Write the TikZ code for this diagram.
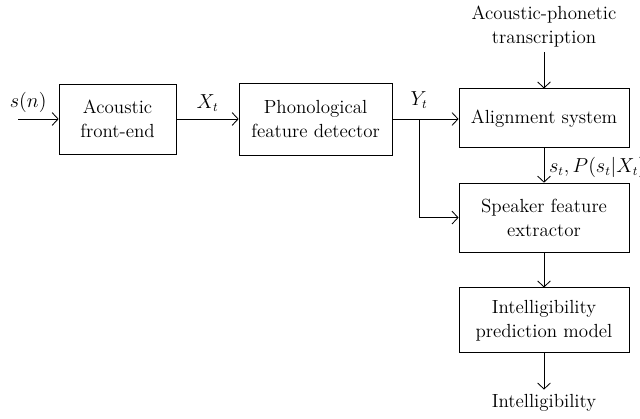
\documentclass[tikz,border=0pt]{standalone}
\usepackage{amsmath}
\usepackage{tikz}
\usetikzlibrary{calc,arrows.meta}

\begin{document}
\begin{tikzpicture}[>={Straight Barb[length=1.5mm,width=3.2mm]}, line width=.6pt,
    every node/.style={font=\fontsize{13.5}{17}\selectfont},
    blk/.style={draw, align=center, inner sep=2pt}]
            \useasboundingbox (0,0) rectangle (16,-10.45);

            % front part
            \node[blk, minimum width=2.925cm, minimum height=1.75cm] (afe) at (2.94,-2.975) {Acoustic\\front-end};
            \node[blk, minimum width=3.825cm, minimum height=1.8cm] (pfd) at (7.89,-2.975) {Phonological\\feature detector};
            \coordinate (sig) at (0.45,-2.975);
            \draw[->] (sig) -- (afe.west) node[pos=.25, above=1pt] {$s(n)$};
            \draw[->] (afe.east) -- (pfd.west) node[midway, above=2pt] {$X_t$};

            % right column
            \node[blk, minimum width=4.25cm, minimum height=1.475cm] (als) at (13.6,-2.96) {Alignment system};
            \node[blk, minimum width=4.25cm, minimum height=1.725cm] (sfe) at (13.6,-5.44) {Speaker feature\\extractor};
            \node[blk, minimum width=4.25cm, minimum height=1.625cm] (ipm) at (13.6,-8.01) {Intelligibility\\prediction model};
            \node[align=center] (apt) at (13.6,-0.66) {Acoustic-phonetic\\transcription};
            \node (out) at (13.6,-10.08) {Intelligibility};

            % connectors
            \coordinate (br) at (10.475,-2.975);
            \draw (pfd.east) -- (br) node[above=4pt] {$Y_t$};
            \draw[->] (br) -- (als.west |- br);
            \draw[->] (br) |- (sfe.west);
            \draw[->] (apt.south) -- (als.north);
            \draw[->] (als.south) -- (sfe.north) node[pos=.55, right=0pt] {$s_t, P(s_t|X_t)$};
            \draw[->] (sfe.south) -- (ipm.north);
            \draw[->] (ipm.south) -- (out.north);

          \end{tikzpicture}
\end{document}
